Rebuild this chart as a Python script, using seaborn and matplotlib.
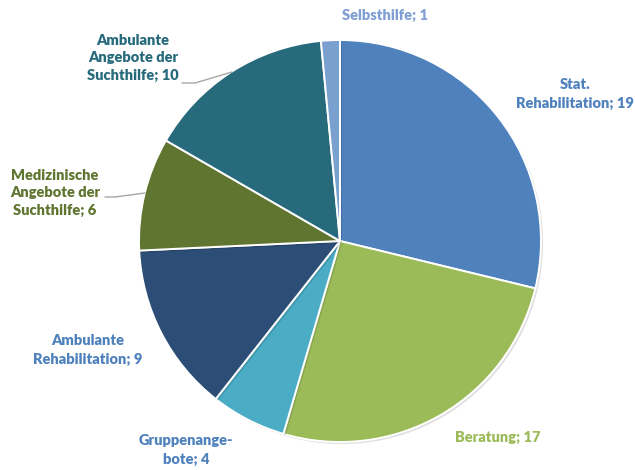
import matplotlib
matplotlib.use("Agg")
import matplotlib.pyplot as plt
import matplotlib.patheffects as pe
import seaborn as sns

# Angebote nach Art (Anzahl)
categories = [
    "Stat.\nRehabilitation",
    "Beratung",
    "Gruppenange-\nbote",
    "Ambulante\nRehabilitation",
    "Medizinische\nAngebote der\nSuchthilfe",
    "Ambulante\nAngebote der\nSuchthilfe",
    "Selbsthilfe",
]
values = [19, 17, 4, 9, 6, 10, 1]
slice_colors = ["#4f81bd", "#9bbb59", "#4bacc6", "#2c4d75", "#5f7530", "#276a7c", "#7aa0cf"]
label_colors = ["#4f81bd", "#9bbb59", "#4f81bd", "#4f81bd", "#5f7530", "#276a7c", "#7f9fd4"]

sns.set_theme(style="white")
plt.rcParams["font.family"] = ["Lato", "DejaVu Sans"]

W, H = 635, 470
fig = plt.figure(figsize=(W / 100, H / 100), dpi=100)
cx, cy, r = 340, 241, 201
ax = fig.add_axes([(cx - r) / W, 1 - (cy + r) / H, 2 * r / W, 2 * r / H])

wedges, _ = ax.pie(
    values,
    colors=slice_colors,
    startangle=90,
    counterclock=False,
    radius=1.0,
    wedgeprops=dict(edgecolor="white", linewidth=1.4),
)
ax.set_xlim(-1, 1)
ax.set_ylim(-1, 1)
ax.set_aspect("equal")
ax.axis("off")

# soft shadow around the pie
for w in wedges:
    w.set_path_effects([pe.SimplePatchShadow(offset=(1.5, -1.5), shadow_rgbFace="#000000", alpha=0.12), pe.Normal()])


def to_data(px, py):
    return (px - cx) / r, (cy - py) / r


label_pos = [(575, 94), (498, 437), (186, 450), (88, 350), (55, 193), (133, 58), (385, 15)]
for cat, val, col, (px, py) in zip(categories, values, label_colors, label_pos):
    x, y = to_data(px, py)
    ax.text(x, y, f"{cat}; {val}", ha="center", va="center", color=col,
            fontsize=10.5, fontweight="heavy", linespacing=1.45, clip_on=False)

# leader lines for the two labels on the upper left
leaders = [
    [(182, 83), (195, 83), (232, 72)],
    [(105, 197), (115, 197), (145, 193)],
]
for pts in leaders:
    xs, ys = zip(*[to_data(px, py) for px, py in pts])
    ax.plot(xs, ys, color="#a6a6a6", lw=1.0, clip_on=False)

fig.savefig("out.png", dpi=100, facecolor="white")
